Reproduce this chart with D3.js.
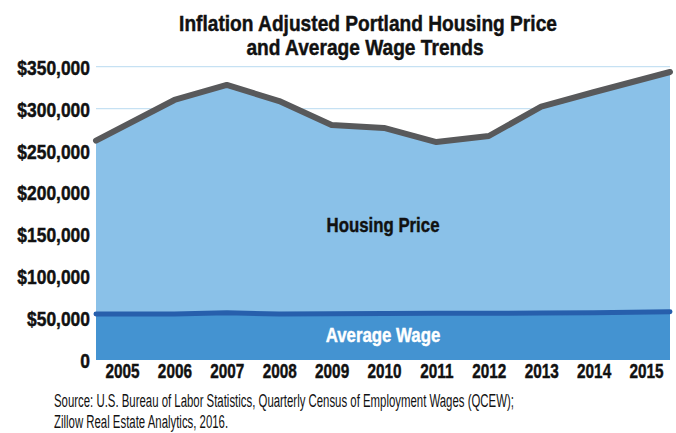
<!DOCTYPE html>
<html>
<head>
<meta charset="utf-8">
<script src="https://cdn.jsdelivr.net/npm/d3@7"></script>
<style>
  html, body { margin: 0; padding: 0; background: #fff; }
  svg { display: block; }
  text { font-family: "Liberation Sans", Arial, sans-serif; }
  .heavy { stroke-width: 0.45px; paint-order: stroke; }
</style>
</head>
<body>
<svg id="chart" width="676" height="433"></svg>
<script>
// Portland housing price vs. average wage, inflation adjusted (USD)
const years = [2005, 2006, 2007, 2008, 2009, 2010, 2011, 2012, 2013, 2014, 2015];
const housingPrice = [261700, 310300, 328200, 309000, 280400, 276900, 260100, 267300, 302300, 319500, 343700];
const averageWage = [55000, 54800, 56300, 55000, 55300, 55600, 55700, 55800, 56000, 56400, 57500];
const yTicks = [0, 50000, 100000, 150000, 200000, 250000, 300000, 350000];
const titleLines = ["Inflation Adjusted Portland Housing Price", "and Average Wage Trends"];
const sourceLines = [
  "Source: U.S. Bureau of Labor Statistics, Quarterly Census of Employment Wages (QCEW);",
  "Zillow Real Estate Analytics, 2016."
];

const svg = d3.select("#chart");
const plot = { left: 96, right: 670, top: 66.7, bottom: 360 };

// Condensed look: squeeze each text horizontally by a fixed ratio
function condense(sel, ratio) {
  sel.each(function () {
    const w = this.getComputedTextLength();
    d3.select(this).attr("textLength", w * ratio).attr("lengthAdjust", "spacingAndGlyphs");
  });
}
// Extra weight for the bold labels
function heavy(sel, color) {
  sel.classed("heavy", true).attr("stroke", color);
}

const y = d3.scaleLinear().domain([0, 350000]).range([plot.bottom, plot.top]);

// Year labels sit on an evenly spaced point scale
const xLabel = d3.scalePoint().domain(years).range([122, 646]);
// The series run edge to edge: end years pinned to the plot borders,
// interior years aligned with their labels
const xLine = d3.scaleLinear()
  .domain(years)
  .range(years.map((yr, i) => i === 0 ? plot.left : i === years.length - 1 ? plot.right : xLabel(yr)));

// Gridlines
svg.append("g")
  .selectAll("line")
  .data(yTicks.filter(d => d > 0))
  .join("line")
  .attr("x1", plot.left).attr("x2", plot.right)
  .attr("y1", d => y(d)).attr("y2", d => y(d))
  .attr("stroke", "#c6e1f3").attr("stroke-width", 1.2);

const housing = years.map((yr, i) => ({ yr, v: housingPrice[i] }));
const wage = years.map((yr, i) => ({ yr, v: averageWage[i] }));

const area = d3.area().x(d => xLine(d.yr)).y0(y(0)).y1(d => y(d.v));
const line = d3.line().x(d => xLine(d.yr)).y(d => y(d.v));

svg.append("path").datum(housing).attr("d", area).attr("fill", "#8ac1e8");
svg.append("path").datum(wage).attr("d", area).attr("fill", "#4493d1");
svg.append("path").datum(wage).attr("d", line)
  .attr("fill", "none").attr("stroke", "#275fac").attr("stroke-width", 5).attr("stroke-linejoin", "round").attr("stroke-linecap", "round");
svg.append("path").datum(housing).attr("d", line)
  .attr("fill", "none").attr("stroke", "#58595b").attr("stroke-width", 6).attr("stroke-linejoin", "round").attr("stroke-linecap", "round");

// Y axis labels
const yAxis = d3.axisLeft(y).tickValues(yTicks).tickSize(0).tickPadding(0)
  .tickFormat(d => d === 0 ? "0" : "$" + d3.format(",")(d));
svg.append("g")
  .attr("transform", `translate(${plot.left - 6},0)`)
  .call(yAxis)
  .call(g => g.select(".domain").remove())
  .call(g => g.selectAll("text")
    .attr("font-family", null)
    .attr("font-size", 21).attr("font-weight", "bold").attr("fill", "#111")
    .attr("dy", "0.36em")
    .call(condense, 0.83)
    .call(heavy, "#111"));

// X axis labels
const xAxis = d3.axisBottom(xLabel).tickSize(0).tickPadding(0);
svg.append("g")
  .attr("transform", `translate(0,${plot.bottom})`)
  .call(xAxis)
  .call(g => g.select(".domain").remove())
  .call(g => g.selectAll("text")
    .attr("font-family", null)
    .attr("font-size", 21).attr("font-weight", "bold").attr("fill", "#111")
    .attr("y", 18).attr("dy", 0)
    .call(condense, 0.73)
    .call(heavy, "#111"));

// Series labels
svg.append("text").attr("x", 383).attr("y", 232).attr("text-anchor", "middle")
  .attr("font-size", 21).attr("font-weight", "bold").attr("fill", "#111").text("Housing Price")
  .call(condense, 0.8).call(heavy, "#111");
svg.append("text").attr("x", 383).attr("y", 342).attr("text-anchor", "middle")
  .attr("font-size", 21).attr("font-weight", "bold").attr("fill", "#fff").text("Average Wage")
  .call(condense, 0.8).call(heavy, "#fff");

// Title
svg.append("g").selectAll("text").data(titleLines).join("text")
  .attr("x", (d, i) => i === 0 ? 368 : 365).attr("y", (d, i) => 31 + i * 24)
  .attr("text-anchor", "middle")
  .attr("font-size", 22).attr("font-weight", "bold").attr("fill", "#111")
  .text(d => d)
  .call(condense, 0.87)
  .call(heavy, "#111");

// Source note, set in a narrower group scaled about its left edge
const srcX = 54, srcRatio = 0.6;
svg.append("g")
  .attr("transform", `translate(${srcX},0) scale(${srcRatio},1)`)
  .selectAll("text").data(sourceLines).join("text")
  .attr("x", 0).attr("y", (d, i) => 407 + i * 21)
  .attr("font-size", 19).attr("fill", "#111")
  .text(d => d);
</script>
</body>
</html>
